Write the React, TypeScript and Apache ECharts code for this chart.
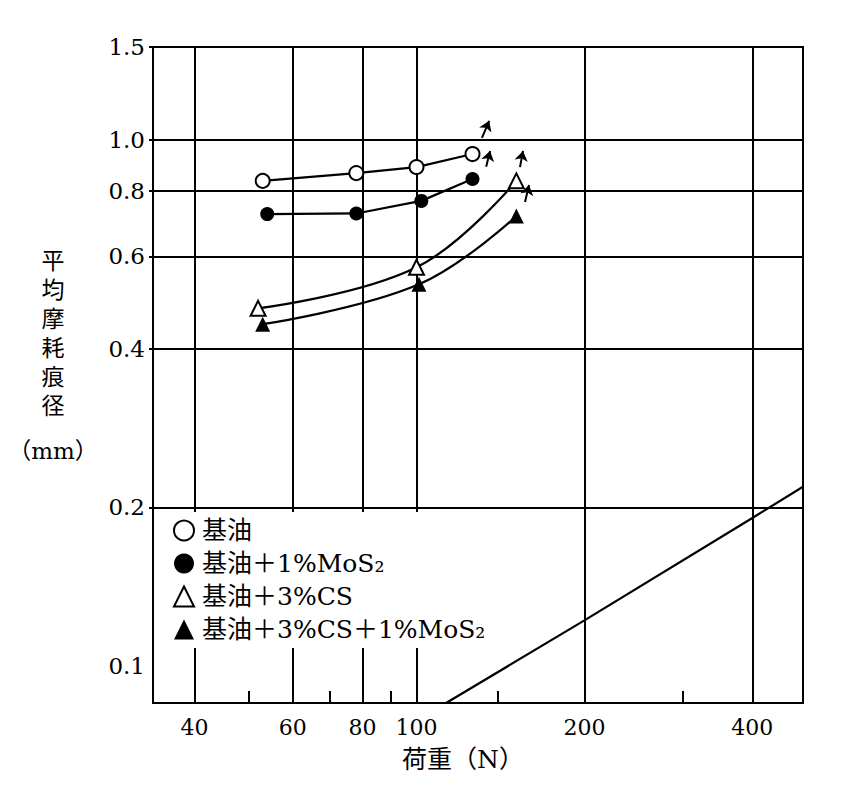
import React, { useEffect, useRef } from "react";
import * as echarts from "echarts";

// Axis ticks / labels
const xMajor = [40, 60, 80, 100, 200, 400];
const xMinor = [50, 70, 90, 140, 300];
const yGrid = [0.2, 0.4, 0.6, 0.8, 1.0, 1.5];
const yLabels = [0.1, 0.2, 0.4, 0.6, 0.8, 1.0, 1.5];

// Series names
const names = ["基油", "基油＋1%MoS₂", "基油＋3%CS", "基油＋3%CS＋1%MoS₂"];

// Data (load N, mean wear scar diameter mm)
const loadsBase = [53, 78, 100, 126];
const wearBase = [0.835, 0.864, 0.887, 0.939];
const loadsMoS2 = [54, 78, 102, 126];
const wearMoS2 = [0.722, 0.724, 0.765, 0.842];
const loadsCS = [52, 100, 151];
const wearCS = [0.478, 0.572, 0.835];
const loadsCSMoS2 = [53, 101, 151];
const wearCSMoS2 = [0.446, 0.531, 0.716];

// Reference straight line
const refLoads = [113, 200, 400, 493];
const refWear = [0.085, 0.122, 0.191, 0.219];

// Seizure arrows (tail, head)
const arrowTails = [
  [131, 1.008],
  [133.3, 0.888],
  [153.3, 0.887],
  [156.5, 0.761],
];
const arrowHeads = [
  [135, 1.086],
  [135.5, 0.952],
  [155.2, 0.952],
  [159.1, 0.82],
];

const zip = (xs: number[], ys: number[]) => xs.map((x, i) => [x, ys[i]]);

const serif = "'DejaVu Serif', 'Liberation Serif', serif";
const cjk = "'DejaVu Serif', 'Noto Sans CJK JP', serif";

export default function App() {
  const ref = useRef<HTMLDivElement>(null);
  useEffect(() => {
    if (!ref.current) return;
    const chart = echarts.init(ref.current, null, { renderer: "svg" });
    const black = "#000";
    const xCommon = { type: "log", logBase: 10, min: 33.7, max: 493 };
    const option: any = {
      animation: false,
      backgroundColor: "#fff",
      grid: {
        left: 153,
        top: 47,
        right: 49,
        bottom: 107,
        show: true,
        borderColor: black,
        borderWidth: 2,
        backgroundColor: "transparent",
      },
      xAxis: [
        {
          ...xCommon,
          position: "bottom",
          axisLine: { show: true, lineStyle: { color: black, width: 2 } },
          axisTick: { show: false, customValues: xMajor },
          axisLabel: {
            customValues: xMajor,
            fontSize: 22,
            fontFamily: serif,
            color: black,
            margin: 13,
          },
          splitLine: { show: true, lineStyle: { color: black, width: 2 } },
          name: "荷重（N）",
          nameLocation: "middle",
          nameGap: 44,
          nameTextStyle: {
            fontSize: 25,
            fontFamily: cjk,
            color: black,
            padding: [0, 30, 0, 0],
          },
        },
        {
          ...xCommon,
          position: "bottom",
          axisLine: { show: false },
          axisTick: {
            show: true,
            inside: true,
            length: 12,
            customValues: xMinor,
            lineStyle: { color: black, width: 2 },
          },
          axisLabel: { show: false },
          splitLine: { show: false },
        },
      ],
      yAxis: {
        type: "log",
        logBase: 10,
        min: 0.085,
        max: 1.5,
        axisLine: { show: true, lineStyle: { color: black, width: 2 } },
        axisTick: {
          show: true,
          length: 4,
          customValues: yGrid,
          lineStyle: { color: black, width: 2 },
        },
        axisLabel: {
          customValues: yLabels,
          formatter: (v: number) => Number(v).toFixed(1),
          fontSize: 23,
          fontFamily: serif,
          color: black,
          margin: 8,
        },
        splitLine: { show: true, lineStyle: { color: black, width: 2 } },
        name: "{a|平}\n{a|均}\n{a|摩}\n{a|耗}\n{a|痕}\n{a|径}\n{s| }\n{m|（mm）}",
        nameLocation: "middle",
        nameRotate: 0,
        nameGap: 100,
        nameTextStyle: {
          align: "center",
          verticalAlign: "middle",
          padding: [0, 0, 38, 0],
          color: black,
          rich: {
            a: { fontSize: 23, lineHeight: 29, fontFamily: cjk, color: black },
            s: { fontSize: 10, lineHeight: 16 },
            m: { fontSize: 23, lineHeight: 29, fontFamily: cjk, color: black },
          },
        },
      },
      legend: {
        orient: "vertical",
        left: 158,
        top: 512,
        itemWidth: 20,
        itemHeight: 20,
        itemGap: 8,
        backgroundColor: "#fff",
        padding: [6, 40, 6, 15],
        textStyle: { fontSize: 25, fontFamily: cjk, color: black, padding: [0, 0, 0, 3] },
        data: [
          { name: names[0], icon: "circle", itemStyle: { color: "#fff", borderColor: black, borderWidth: 2 } },
          { name: names[1], icon: "circle", itemStyle: { color: black, borderColor: black, borderWidth: 0 } },
          { name: names[2], icon: "triangle", itemStyle: { color: "#fff", borderColor: black, borderWidth: 2 } },
          { name: names[3], icon: "triangle", itemStyle: { color: black, borderColor: black, borderWidth: 0 } },
        ],
      },
      series: [
        {
          type: "line",
          name: "ref",
          data: zip(refLoads, refWear),
          symbol: "none",
          lineStyle: { color: black, width: 2.2 },
          z: 2,
          silent: true,
        },
        {
          type: "line",
          name: "l0",
          data: zip(loadsBase, wearBase),
          symbol: "none",
          lineStyle: { color: black, width: 2.2 },
          z: 2,
        },
        {
          type: "line",
          name: "l1",
          data: zip(loadsMoS2, wearMoS2),
          symbol: "none",
          lineStyle: { color: black, width: 2.2 },
          z: 2,
        },
        {
          type: "line",
          name: "l2",
          data: zip(loadsCS, wearCS),
          symbol: "none",
          smooth: 0.4,
          lineStyle: { color: black, width: 2.2 },
          z: 2,
        },
        {
          type: "line",
          name: "l3",
          data: zip(loadsCSMoS2, wearCSMoS2),
          symbol: "none",
          smooth: 0.4,
          lineStyle: { color: black, width: 2.2 },
          z: 2,
        },
        {
          type: "scatter",
          name: names[0],
          data: zip(loadsBase, wearBase),
          symbol: "circle",
          symbolSize: 14,
          itemStyle: { color: "#fff", borderColor: black, borderWidth: 2, opacity: 1 },
          z: 5,
        },
        {
          type: "scatter",
          name: names[1],
          data: zip(loadsMoS2, wearMoS2),
          symbol: "circle",
          symbolSize: 14,
          itemStyle: { color: black, opacity: 1 },
          z: 5,
        },
        {
          type: "scatter",
          name: names[2],
          data: zip(loadsCS, wearCS),
          symbol: "triangle",
          symbolSize: 15,
          itemStyle: { color: "#fff", borderColor: black, borderWidth: 2, opacity: 1 },
          z: 5,
        },
        {
          type: "scatter",
          name: names[3],
          data: zip(loadsCSMoS2, wearCSMoS2),
          symbol: "triangle",
          symbolSize: 15,
          itemStyle: { color: black, opacity: 1 },
          z: 5,
        },
        {
          type: "lines",
          name: "arrows",
          coordinateSystem: "cartesian2d",
          symbol: ["none", "arrow"],
          symbolSize: 10,
          lineStyle: { color: black, width: 2, opacity: 1 },
          data: arrowTails.map((t, i) => ({ coords: [t, arrowHeads[i]] })),
          z: 6,
        },
      ],
    };
    chart.setOption(option);
    return () => chart.dispose();
  }, []);
  return (
    <div
      ref={ref}
      style={{ position: "fixed", left: 0, top: 0, width: 852, height: 810, background: "#fff" }}
    />
  );
}
